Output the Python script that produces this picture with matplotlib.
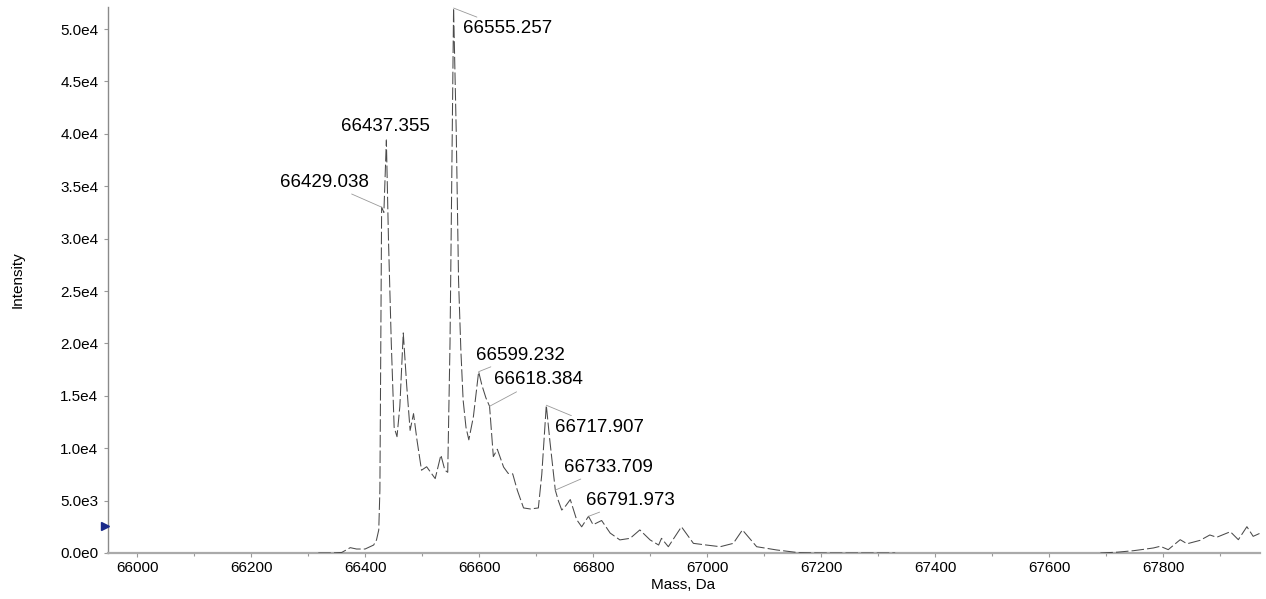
import numpy as np
import matplotlib
matplotlib.use("Agg")
import matplotlib.pyplot as plt
from matplotlib.ticker import MultipleLocator, FuncFormatter
from matplotlib.transforms import blended_transform_factory

plt.rcParams['font.family'] = ['Liberation Sans', 'DejaVu Sans']

# reconstructed spectrum (mass in Da, intensity in counts); nan breaks the trace
mass = [66318, 66340, 66359, 66374, 66385, 66400, 66415, 66420, 66424, 66426,
        66429.038, 66433, 66437.355, 66441, 66446, 66451, 66456, 66461, 66467, 66473,
        66479, 66485, 66491, 66499, 66508, 66515, 66523, 66533, 66540,
        66545, 66549, 66555.257, 66560, 66564, 66568, 66572, 66577, 66582, 66590,
        66599.232, 66605, 66612, 66618.384, 66625, 66632, 66643, 66651, 66659, 66667,
        66678, 66690, 66704, 66710, 66717.907, 66724, 66733.709, 66739, 66745, 66752,
        66760, 66771, 66780, 66791.973, 66800, 66815, 66830, 66847, 66865, 66882,
        66900, 66915, 66920, 66932, 66955, 66976, 66999, 67023, 67046, 67062,
        67087, 67122, 67161, 67200, 67260, 67330, 67500,
        67690, 67720, 67748, 67766, 67783, 67795, 67809, 67830, 67842, 67865,
        67882, 67894, 67918, 67932, 67947, 67958, 67976]
intensity = [0, 0, 50, 510, 380, 380, 760, 1240, 2200, 6000,
             33000, 32500, 39400, 30000, 20000, 12000, 11100, 14000, 21000, 16000,
             11700, 13300, 10800, 7900, 8230, 7700, 7100, 9350, 7900,
             7700, 20000, 52000, 40000, 26000, 19400, 14600, 12000, 10800, 13000,
             17300, 16000, 14800, 14000, 9200, 9900, 8200, 7600, 7550, 6000,
             4300, 4200, 4300, 7500, 14100, 10800, 6000, 5000, 4100, 4500,
             5100, 3200, 2500, 3500, 2700, 3100, 1900, 1250, 1400, 2200,
             1250, 760, 1400, 600, 2500, 920, 760, 600, 920, 2200,
             600, 290, 30, 0, 0, 0, np.nan,
             0, 80, 220, 350, 480, 640, 320, 1270, 880, 1210,
             1720, 1500, 2030, 1270, 2510, 1590, 2030]

# labelled peaks
peak_mass = [66555.257, 66437.355, 66429.038, 66599.232, 66618.384,
             66717.907, 66733.709, 66791.973]
peak_int = [52000, 39400, 33000, 17300, 14000, 14100, 6000, 3500]

threshold = 2600

fig = plt.figure(figsize=(12.66, 5.99), dpi=100)
ax = fig.add_axes([108 / 1266, 46 / 599, 1152 / 1266, 546 / 599])

ax.plot(mass, intensity, color='#4a4a4a', lw=0.75, dashes=(12, 3), zorder=3)

# label offsets in points (text anchor relative to the peak)
offsets = [(6.5, -15, 'left'), (-1, 9.5, 'center'), (-9, 18, 'right'),
           (-2, 12, 'left'), (3.5, 19, 'left'), (6.5, -16, 'left'),
           (6, 16.5, 'left'), (-1.5, 11.5, 'left')]
for m, i, (dx, dy, ha) in zip(peak_mass, peak_int, offsets):
    ax.annotate(f"{m:.3f}", xy=(m, i), xytext=(dx, dy), textcoords='offset points',
                ha=ha, va='center', fontsize=13.5, color='black',
                arrowprops=dict(arrowstyle='-', color='#999999', lw=0.6,
                                shrinkA=1, shrinkB=0))

ax.set_xlim(65949, 67970)
ax.set_ylim(0, 52100)

ax.xaxis.set_major_locator(MultipleLocator(200))
ax.xaxis.set_minor_locator(MultipleLocator(100))
ax.yaxis.set_major_locator(MultipleLocator(5000))


def sci_label(v, pos):
    if v <= 0:
        return "0.0e0" if v == 0 else ""
    e = int(np.floor(np.log10(v)))
    return f"{v / 10 ** e:.1f}e{e}"


ax.yaxis.set_major_formatter(FuncFormatter(sci_label))

for s in ['top', 'right']:
    ax.spines[s].set_visible(False)
ax.spines['bottom'].set_color('#aaaaaa')
ax.spines['bottom'].set_linewidth(1.6)
ax.spines['left'].set_color('#8a8a8a')
ax.spines['left'].set_linewidth(1.0)

ax.tick_params(axis='both', which='both', direction='out', colors='#999999',
               labelcolor='black', labelsize=11)
ax.tick_params(axis='both', which='major', length=3, width=0.8)
ax.tick_params(axis='x', which='minor', length=2, width=0.8)
ax.tick_params(axis='x', pad=3)
ax.tick_params(axis='y', pad=4)

# threshold marker on the intensity axis
trans = blended_transform_factory(ax.transAxes, ax.transData)
ax.plot([-0.003], [threshold], marker='>', color='#1a2a8a', markersize=6,
        transform=trans, clip_on=False, zorder=5)

fig.text(18 / 1266, 1 - 280 / 599, "Intensity", rotation=90, ha='center',
         va='center', fontsize=11)
fig.text(683 / 1266, 1 - 585 / 599, "Mass, Da", ha='center', va='center',
         fontsize=11)

fig.savefig("out.png", dpi=100)
